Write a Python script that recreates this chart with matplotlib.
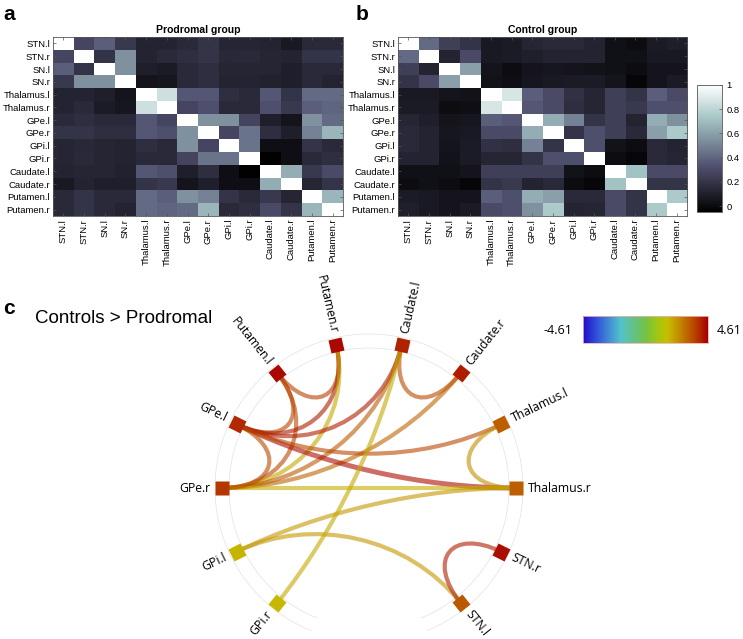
import numpy as np
import matplotlib
matplotlib.use("Agg")
import matplotlib.pyplot as plt
from matplotlib.path import Path
from matplotlib.patches import PathPatch
from matplotlib.markers import MarkerStyle
from matplotlib.transforms import Affine2D
from matplotlib.colors import LinearSegmentedColormap, Normalize
from matplotlib.colorbar import ColorbarBase

regions = ['STN.l', 'STN.r', 'SN.l', 'SN.r', 'Thalamus.l', 'Thalamus.r',
           'GPe.l', 'GPe.r', 'GPi.l', 'GPi.r', 'Caudate.l', 'Caudate.r',
           'Putamen.l', 'Putamen.r']

# correlation matrices (symmetric)
prodromal = np.array([
    [1.00, 0.28, 0.38, 0.22, 0.12, 0.12, 0.15, 0.20, 0.13, 0.13, 0.12, 0.07, 0.15, 0.15],
    [0.28, 1.00, 0.20, 0.55, 0.12, 0.15, 0.17, 0.20, 0.14, 0.15, 0.13, 0.12, 0.20, 0.20],
    [0.38, 0.20, 1.00, 0.55, 0.10, 0.08, 0.15, 0.17, 0.13, 0.13, 0.13, 0.10, 0.15, 0.15],
    [0.22, 0.55, 0.55, 1.00, 0.05, 0.06, 0.15, 0.17, 0.12, 0.12, 0.11, 0.10, 0.15, 0.12],
    [0.12, 0.12, 0.10, 0.05, 1.00, 0.85, 0.35, 0.35, 0.17, 0.15, 0.35, 0.20, 0.42, 0.42],
    [0.12, 0.15, 0.08, 0.06, 0.85, 1.00, 0.28, 0.32, 0.15, 0.15, 0.32, 0.22, 0.38, 0.40],
    [0.15, 0.17, 0.15, 0.15, 0.35, 0.28, 1.00, 0.55, 0.55, 0.27, 0.10, 0.05, 0.55, 0.42],
    [0.20, 0.20, 0.17, 0.17, 0.35, 0.32, 0.55, 1.00, 0.28, 0.45, 0.17, 0.10, 0.50, 0.68],
    [0.13, 0.14, 0.13, 0.12, 0.17, 0.15, 0.55, 0.28, 1.00, 0.45, 0.02, 0.02, 0.20, 0.15],
    [0.13, 0.15, 0.13, 0.12, 0.15, 0.15, 0.27, 0.45, 0.45, 1.00, -0.04, 0.02, 0.15, 0.17],
    [0.12, 0.13, 0.13, 0.11, 0.35, 0.32, 0.10, 0.17, 0.02, -0.04, 1.00, 0.65, 0.22, 0.30],
    [0.07, 0.12, 0.10, 0.10, 0.20, 0.22, 0.05, 0.10, 0.02, 0.02, 0.65, 1.00, 0.13, 0.20],
    [0.15, 0.20, 0.15, 0.15, 0.42, 0.38, 0.55, 0.50, 0.20, 0.15, 0.22, 0.13, 1.00, 0.68],
    [0.15, 0.20, 0.15, 0.12, 0.42, 0.40, 0.42, 0.68, 0.15, 0.17, 0.30, 0.20, 0.68, 1.00],
])

control = np.array([
    [1.00, 0.42, 0.25, 0.20, 0.07, 0.08, 0.13, 0.15, 0.15, 0.12, 0.03, 0.01, 0.08, 0.10],
    [0.42, 1.00, 0.12, 0.30, 0.07, 0.08, 0.10, 0.12, 0.12, 0.12, 0.03, 0.03, 0.07, 0.07],
    [0.25, 0.12, 1.00, 0.60, 0.05, 0.01, 0.05, 0.06, 0.05, 0.04, 0.03, 0.01, 0.05, 0.05],
    [0.20, 0.30, 0.60, 1.00, 0.04, 0.02, 0.06, 0.07, 0.08, 0.08, 0.05, -0.02, 0.05, 0.08],
    [0.07, 0.07, 0.05, 0.04, 1.00, 0.88, 0.38, 0.30, 0.18, 0.13, 0.25, 0.20, 0.38, 0.30],
    [0.08, 0.08, 0.01, 0.02, 0.88, 1.00, 0.35, 0.30, 0.17, 0.13, 0.25, 0.22, 0.32, 0.32],
    [0.13, 0.10, 0.05, 0.06, 0.38, 0.35, 1.00, 0.65, 0.50, 0.20, 0.25, 0.12, 0.65, 0.55],
    [0.15, 0.12, 0.06, 0.07, 0.30, 0.30, 0.65, 1.00, 0.20, 0.32, 0.25, 0.15, 0.60, 0.75],
    [0.15, 0.12, 0.05, 0.08, 0.18, 0.17, 0.50, 0.20, 1.00, 0.32, 0.04, 0.01, 0.15, 0.12],
    [0.12, 0.12, 0.04, 0.08, 0.13, 0.13, 0.20, 0.32, 0.32, 1.00, 0.01, -0.01, 0.15, 0.13],
    [0.03, 0.03, 0.03, 0.05, 0.25, 0.25, 0.25, 0.25, 0.04, 0.01, 1.00, 0.72, 0.30, 0.30],
    [0.01, 0.03, 0.01, -0.02, 0.20, 0.22, 0.12, 0.15, 0.01, -0.01, 0.72, 1.00, 0.20, 0.20],
    [0.08, 0.07, 0.05, 0.05, 0.38, 0.32, 0.65, 0.60, 0.15, 0.15, 0.30, 0.20, 1.00, 0.75],
    [0.10, 0.07, 0.05, 0.08, 0.30, 0.32, 0.55, 0.75, 0.12, 0.13, 0.30, 0.20, 0.75, 1.00],
])

# circle graph: node order clockwise from the top, values of nodes and edges
circle_order = ['Caudate.l', 'Caudate.r', 'Thalamus.l', 'Thalamus.r', 'STN.r', 'STN.l',
                'SN.r', 'SN.l', 'GPi.r', 'GPi.l', 'GPe.r', 'GPe.l', 'Putamen.l', 'Putamen.r']
shown_nodes = ['Caudate.l', 'Caudate.r', 'Thalamus.l', 'Thalamus.r', 'STN.r', 'STN.l',
               'GPi.r', 'GPi.l', 'GPe.r', 'GPe.l', 'Putamen.l', 'Putamen.r']
node_vals = [4.1, 4.2, 3.2, 3.2, 4.4, 3.3, 1.7, 1.8, 3.8, 4.0, 4.5, 4.5]

edge_src = ['Putamen.l', 'Putamen.l', 'Putamen.l', 'Putamen.r', 'Putamen.r', 'Caudate.l',
            'Caudate.l', 'Caudate.l', 'Caudate.r', 'GPe.l', 'GPe.l', 'Thalamus.l',
            'GPe.r', 'GPi.l', 'GPi.l', 'STN.l', 'GPi.r', 'GPe.l']
edge_dst = ['Putamen.r', 'GPe.l', 'GPe.r', 'GPe.l', 'GPe.r', 'Caudate.r',
            'GPe.l', 'GPe.r', 'GPe.r', 'Thalamus.r', 'Thalamus.l', 'Thalamus.r',
            'Thalamus.r', 'Thalamus.r', 'STN.l', 'STN.r', 'Caudate.l', 'GPe.r']
edge_val = [3.7, 3.6, 3.6, 4.2, 2.0, 3.6,
            4.2, 3.3, 3.1, 4.4, 3.6, 2.4,
            1.9, 2.3, 2.3, 4.2, 2.0, 3.6]
cmax = 4.61

plt.rcParams['font.family'] = ['Liberation Sans', 'DejaVu Sans']
fig = plt.figure(figsize=(7.43, 6.39), dpi=100)

vmin, vmax = -0.05, 1.0
for pos, mat, ttl in [([0.0713, 0.662, 0.3903, 0.280], prodromal, 'Prodromal group'),
                      ([0.5357, 0.662, 0.3890, 0.280], control, 'Control group')]:
    ax = fig.add_axes(pos)
    im = ax.imshow(mat, cmap='bone', vmin=vmin, vmax=vmax, aspect='auto',
                   interpolation='nearest')
    ax.set_xticks(range(len(regions)))
    ax.set_yticks(range(len(regions)))
    ax.set_xticklabels(regions, rotation=90, fontsize=6.8)
    ax.set_yticklabels(regions, fontsize=6.8)
    ax.tick_params(direction='in', length=2, width=0.5, top=True, right=True,
                   pad=2, color='#555555')
    for sp in ax.spines.values():
        sp.set_linewidth(0.6)
        sp.set_color('#555555')
    ax.set_title(ttl, fontsize=7.5, fontweight='bold', pad=3)

cax = fig.add_axes([0.938, 0.668, 0.0336, 0.199])
cb = fig.colorbar(im, cax=cax, ticks=[0, 0.2, 0.4, 0.6, 0.8, 1])
cb.ax.set_yticklabels(['0', '0.2', '0.4', '0.6', '0.8', '1'])
cb.ax.tick_params(labelsize=6.8, direction='in', length=2, width=0.5, color='#555555')
cb.outline.set_linewidth(0.6)
cb.outline.set_edgecolor('#555555')

fig.text(0.004, 0.992, 'a', fontsize=15, fontweight='bold', va='top')
fig.text(0.478, 0.992, 'b', fontsize=15, fontweight='bold', va='top')
fig.text(0.004, 0.532, 'c', fontsize=15, fontweight='bold', va='top')
fig.text(0.047, 0.502, 'Controls > Prodromal', fontsize=13.5, va='center')

# circle graph drawn in pixel coordinates
axc = fig.add_axes([0, 0, 1, 1], zorder=-1)
axc.set_xlim(0, 743)
axc.set_ylim(639, 0)
axc.axis('off')

edge_cmap = LinearSegmentedColormap.from_list('bcyr', [
    (0.00, (0.13, 0.04, 0.80)),
    (0.12, (0.20, 0.35, 0.85)),
    (0.30, (0.32, 0.76, 0.80)),
    (0.50, (0.45, 0.76, 0.28)),
    (0.60, (0.64, 0.78, 0.06)),
    (0.68, (0.78, 0.74, 0.00)),
    (0.80, (0.75, 0.48, 0.00)),
    (0.88, (0.73, 0.30, 0.00)),
    (1.00, (0.66, 0.00, 0.00)),
])
norm = Normalize(-cmax, cmax)

cx, cy, R = 369.0, 488.0, 147.0
step = 360.0 / len(circle_order)
theta = {n: (k + 0.5) * step for k, n in enumerate(circle_order)}


def node_xy(name, r=R):
    t = np.deg2rad(theta[name])
    return cx + r * np.sin(t), cy - r * np.cos(t)


# guide arcs
tt = np.deg2rad(np.linspace(202, 518, 300))
for rr in (140, 154):
    axc.plot(cx + rr * np.sin(tt), cy - rr * np.cos(tt), color='#e2e2e2', lw=0.5, zorder=1)

for a, b, v in zip(edge_src, edge_dst, edge_val):
    p0 = np.array(node_xy(a))
    p1 = np.array(node_xy(b))
    c = np.array([cx, cy])
    chord = np.linalg.norm(p1 - p0) / (2 * R)
    s = 0.7 - 0.35 * chord
    verts = [p0, c + s * (p0 - c), c + s * (p1 - c), p1]
    path = Path(verts, [Path.MOVETO, Path.CURVE4, Path.CURVE4, Path.CURVE4])
    lw = 3.6 if v > 4.3 else 3.0
    axc.add_patch(PathPatch(path, fc='none', ec=edge_cmap(norm(v)), lw=lw, alpha=0.6,
                            capstyle='butt', zorder=2))

for n, v in zip(shown_nodes, node_vals):
    x, y = node_xy(n)
    m = MarkerStyle('s', transform=Affine2D().rotate_deg(-theta[n]))
    axc.plot([x], [y], marker=m, ms=9.4, color=edge_cmap(norm(v)), mec='none', zorder=3)
    lx, ly = node_xy(n, R + 12)
    th = theta[n]
    if th < 180:
        rot, ha = 90 - th, 'left'
    else:
        rot, ha = 270 - th, 'right'
    axc.text(lx, ly, n, rotation=rot, rotation_mode='anchor', ha=ha, va='center',
             fontsize=8.8, family=['Open Sans', 'DejaVu Sans'], zorder=4)

# colour bar of the circle graph
cax2 = fig.add_axes([0.7847, 0.4632, 0.168, 0.0423])
cb2 = ColorbarBase(cax2, cmap=edge_cmap, norm=norm, orientation='horizontal')
cb2.set_ticks([])
cb2.outline.set_edgecolor('#f0b0b0')
cb2.outline.set_linewidth(0.6)
fig.text(0.771, 0.483, '-4.61', ha='right', va='center', fontsize=9,
         family=['Open Sans', 'DejaVu Sans'])
fig.text(0.964, 0.483, '4.61', ha='left', va='center', fontsize=9,
         family=['Open Sans', 'DejaVu Sans'])

plt.savefig('out.png', dpi=100)
plt.close()
